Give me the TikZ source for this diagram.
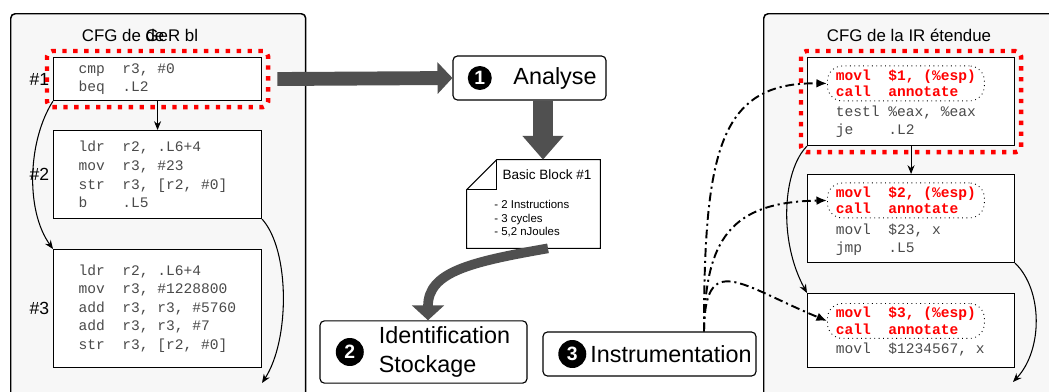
\documentclass[tikz,border=0pt]{standalone}
\usepackage{fontspec}
\setmainfont{Liberation Sans}
\setsansfont{Liberation Sans}
\setmonofont{Liberation Mono}
\usetikzlibrary{arrows.meta,positioning,fit}
\definecolor{panel}{HTML}{F7F7F7}
\definecolor{shaft}{HTML}{505050}
\definecolor{codegray}{HTML}{4A4A4A}
\definecolor{hot}{HTML}{FF0000}
\newcommand{\ws}{\hspace*{.6em}}
\tikzset{every node/.style={font=\sffamily\fontsize{9.6}{11.5}\selectfont},
 panelbox/.style={draw=black,fill=panel,line width=.85pt,rounded corners=2.5pt,anchor=north west,minimum height=8cm},
 bb/.style={draw=black,fill=white,line width=.65pt,anchor=north west,inner xsep=.5cm,inner ysep=0pt,text width=3.16cm,align=left,text=codegray,font=\ttfamily\fontsize{8.3}{10.6}\selectfont},
 rb/.style={draw=black,fill=white,line width=.65pt,anchor=north west,minimum width=4.14cm},
 annot/.style={draw=black,dotted,line width=.5pt,rounded corners=.3cm,minimum height=.7cm,inner xsep=.17cm,inner ysep=0pt,text width=2.8cm,align=left,text=hot,font=\ttfamily\bfseries\fontsize{8.3}{9.4}\selectfont},
 rcode/.style={inner xsep=.17cm,inner ysep=0pt,align=left,text=codegray,font=\ttfamily\fontsize{8.3}{10.4}\selectfont},
 hotframe/.style={draw=hot,line width=2.5pt,dash pattern=on 2.5pt off 3.7pt,rounded corners=3pt,inner sep=3.4pt},
 tag/.style={font=\sffamily\fontsize{10}{12}\selectfont,inner sep=1pt},
 stepbox/.style={draw=black,fill=white,rounded corners=2.5pt,line width=.65pt,inner xsep=0pt,align=left,font=\sffamily\fontsize{13.3}{16.4}\selectfont},
 numdot/.style={circle,fill=black,text=white,inner sep=0pt,font=\sffamily\bfseries\fontsize{11}{11}\selectfont},
 bigarrow/.style={draw=shaft,line width=7.9pt,-{Triangle[length=8.5pt,width=17.6pt]}},
 flow/.style={-{Stealth[length=5pt,width=4pt]},line width=.6pt},
 hook/.style={-{Latex[length=6pt,width=5pt]},line width=1.1pt,dash pattern=on 5pt off 2.2pt on 1.2pt off 2.2pt}}

\begin{document}
\begin{tikzpicture}[x=0.02cm,y=-0.02cm]

\path[use as bounding box,clip] (0,0) rectangle (1049,392);
\node[panelbox,minimum width=5.9cm] (srcpanel) at (10,13) {};
\node[panelbox,minimum width=7cm] (irpanel) at (763,13) {};
\node (lt) at (140,35) {CFG de \rlap{de}GeR bl};
\node (rt) at (909,35) {CFG de la IR étendue};

% code source
\node[bb,minimum height=.86cm] (b1) at (53,57) {cmp\ws\ws r3,\ws\#0\\beq\ws\ws .L2};
\node[bb,minimum height=1.76cm] (b2) at (53,130) {ldr\ws\ws r2,\ws .L6+4\\mov\ws\ws r3,\ws\#23\\str\ws\ws r3,\ws[r2,\ws\#0]\\b\ws\ws\ws\ws .L5};
\node[bb,minimum height=2.36cm] (b3) at (53,249) {ldr\ws\ws r2,\ws .L6+4\\mov\ws\ws r3,\ws\#1228800\\add\ws\ws r3,\ws r3,\ws\#5760\\add\ws\ws r3,\ws r3,\ws\#7\\str\ws\ws r3,\ws[r2,\ws\#0]};
\node[tag,left=1pt of b1] (t1) {\#1};
\node[tag,left=1pt of b2] (t2) {\#2};
\node[tag,left=1pt of b3] (t3) {\#3};
\node[hotframe,fit=(b1)] (f1) {};

% IR
\node[rb,minimum height=1.76cm] (r1) at (807,57) {};
\node[rb,minimum height=1.76cm] (r2) at (807,174) {};
\node[rb,minimum height=1.48cm] (r3) at (807,293) {};
\node[annot,below right=.17cm and .4cm of r1.north west] (a1) {movl\ws\ws\$1,\ws(\%esp)\\call\ws\ws annotate};
\node[annot,below right=.17cm and .4cm of r2.north west] (a2) {movl\ws\ws\$2,\ws(\%esp)\\call\ws\ws annotate};
\node[annot,below right=.2cm and .4cm of r3.north west] (a3) {movl\ws\ws\$3,\ws(\%esp)\\call\ws\ws annotate};
\node[rcode,below right=.08cm and 0cm of a1.south west] (c1) {testl\ws\%eax,\ws\%eax\\je\ws\ws\ws\ws .L2};
\node[rcode,below right=.1cm and 0cm of a2.south west] (c2) {movl\ws\ws\$23,\ws x\\jmp\ws\ws\ws .L5};
\node[rcode,below right=.08cm and 0cm of a3.south west] (c3) {movl\ws\ws\$1234567,\ws x};
\node[hotframe,fit=(r1)] (f2) {};

% etapes
\node[stepbox,minimum width=3.06cm,minimum height=.88cm] (s1) at (529.5,78) {\hspace*{1.02cm}Analyse};
\node[stepbox,minimum width=4.14cm,minimum height=1.2cm] (s2) at (423.5,352) {\hspace*{.84cm}Identification\\\hspace*{.84cm}Stockage};
\node[stepbox,minimum width=4.26cm,minimum height=.88cm] (s3) at (649.5,354) {\hspace*{.86cm}Instrumentation};
\node[numdot,minimum size=.48cm,right=.3cm of s1.west] (d1) {1};
\node[numdot,minimum size=.56cm,right=.32cm of s2.west] (d2) {2};
\node[numdot,minimum size=.56cm,right=.31cm of s3.west] (d3) {3};

\node[minimum width=2.66cm,minimum height=1.76cm] (bbnote) at (533.5,204) {};
\draw[fill=white,line width=.65pt] ([yshift=-.6cm]bbnote.north west) -- ([xshift=.6cm]bbnote.north west)
 -- (bbnote.north east) -- (bbnote.south east) -- (bbnote.south west) -- cycle;
\draw[line width=.65pt] ([yshift=-.6cm]bbnote.north west) -- ([shift={(.6cm,-.6cm)}]bbnote.north west) -- ([xshift=.6cm]bbnote.north west);
\node[font=\sffamily\fontsize{7.7}{9}\selectfont] (bbtitle) at (547,175) {Basic Block \#1};
\node[anchor=north west,align=left,inner sep=0pt,font=\sffamily\fontsize{6.5}{7.65}\selectfont] (bbtext) at (494,200)
 {- 2 Instructions\\- 3 cycles\\- 5,2 nJoules};

\draw[bigarrow,shorten <=4pt] (f1.east) -- (s1.west);
\draw[bigarrow,line width=11.3pt,-{Triangle[length=13.6pt,width=22.7pt]}] ([xshift=.27cm]s1.south) -- ([xshift=.19cm]bbnote.north);
\draw[draw=shaft,line width=5.5pt,-{Triangle[length=8.5pt,width=18pt]}] ([xshift=.29cm]bbnote.south)
 .. controls (470,262) and (428,272) .. ([xshift=.09cm]s2.north);

\draw[flow] (b1.south) -- (b2.north);
\draw[flow] (b1.south west) .. controls (28,140) and (25,210) .. (b3.north west);
\coordinate (x1) at (262,383);
\draw[flow] (b2.south east) .. controls (290,250) and (290,340) .. (x1);
\draw[flow] (r1.south) -- (r2.north);
\draw[flow] (r1.south west) .. controls (783,170) and (778,240) .. (r3.north west);
\coordinate (x2) at (1013,382);
\draw[flow] (r2.south east) .. controls (1043,290) and (1043,350) .. (x2);

\coordinate (s3top) at ([xshift=1.09cm]s3.north);
\draw[hook] (s3top) .. controls (704,150) and (720,82) .. (a1.west);
\draw[hook] (s3top) .. controls (705,240) and (730,202) .. (a2.west);
\draw[hook] (s3top) .. controls (705,250) and (740,285) .. (a3.west);

\end{tikzpicture}
\end{document}
